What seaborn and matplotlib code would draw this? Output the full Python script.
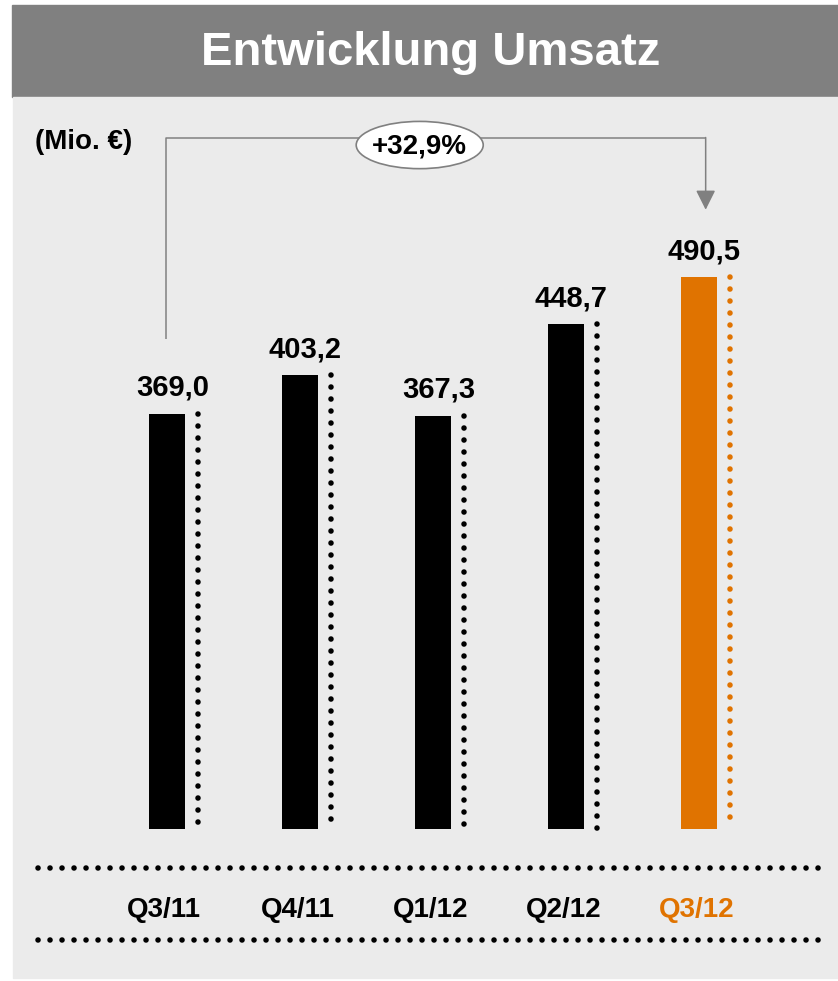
import numpy as np
import matplotlib
matplotlib.use("Agg")
import matplotlib.pyplot as plt
from matplotlib.patches import Rectangle, Ellipse
import seaborn as sns

# data
quarters = ["Q3/11", "Q4/11", "Q1/12", "Q2/12", "Q3/12"]
umsatz = [369.0, 403.2, 367.3, 448.7, 490.5]
bar_colors = ["#000000", "#000000", "#000000", "#000000", "#E07300"]
label_colors = ["#000000", "#000000", "#000000", "#000000", "#E07300"]
title = "Entwicklung Umsatz"
unit_label = "(Mio. €)"

growth = (umsatz[-1] / umsatz[0] - 1) * 100
growth_label = "+" + f"{growth:.1f}".replace(".", ",") + "%"

sns.set_style("white")
plt.rcParams["font.family"] = ["Liberation Sans", "DejaVu Sans"]
plt.rcParams["font.weight"] = "bold"
plt.rcParams["text.color"] = "black"

W, H = 838, 981
fig = plt.figure(figsize=(W / 100, H / 100), dpi=100, facecolor="white")

# title bar and panel (behind the axes)
fig.patches.append(Rectangle((12 / W, 1 - 97 / H), 1 - 12 / W, 92 / H,
                             transform=fig.transFigure, color="#808080", zorder=-10))
fig.patches.append(Rectangle((13 / W, 1 - 978 / H), 1 - 13 / W, (978 - 97) / H,
                             transform=fig.transFigure, color="#EBEBEB", zorder=-10))
fig.text(431 / W, 1 - 53 / H, title, ha="center", va="center",
         color="white", fontsize=34, fontweight="bold")

ax = fig.add_axes([13 / W, 3 / H, 825 / W, (978 - 97) / H])
ax.patch.set_alpha(0)

sns.barplot(x=quarters, y=umsatz, hue=quarters, palette=bar_colors,
            legend=False, width=0.27, saturation=1, linewidth=0, ax=ax)

dot_style = dict(linestyle=(0, (0.01, 2.15)), linewidth=4.0, dash_capstyle="round")

for i, (v, c) in enumerate(zip(umsatz, bar_colors)):
    ax.plot([i + 0.233, i + 0.233], [v, 0], color=c, **dot_style)
    ax.text(i + 0.04, v + 16, f"{v:.1f}".replace(".", ","), ha="center",
            va="baseline", fontsize=21, fontweight="bold", color="black")
    ax.text(i - 0.02, -72, quarters[i], ha="center", va="center",
            fontsize=20, fontweight="bold", color=label_colors[i])

# dotted rules around the category labels
for y in (-34.7, -98.7):
    ax.plot([-0.97, 4.985], [y, y], color="black", **dot_style)

# growth bracket
top = 614.2
ax.plot([-0.01, -0.01, 4.05], [umsatz[0] + 67, top, top],
        color="#808080", lw=1.1, solid_capstyle="butt")
ax.annotate("", xy=(4.05, umsatz[-1] + 60), xytext=(4.05, top + 0.5),
            arrowprops=dict(arrowstyle="-|>,head_length=0.6,head_width=0.3",
                            color="#808080", lw=1.1, shrinkA=0, shrinkB=0,
                            mutation_scale=20))
ax.add_patch(Ellipse((1.9, 608), 0.955, 42, facecolor="white",
                     edgecolor="#808080", lw=1.2, zorder=5))
ax.text(1.9, 607, growth_label, ha="center", va="center", fontsize=20,
        fontweight="bold", color="black", zorder=6)

ax.text(-0.624, 611, unit_label, ha="center", va="center", fontsize=20,
        fontweight="bold", color="black")

ax.set_xlim(-1.158, 5.045)
ax.set_ylim(-132.4, 650.7)
ax.axis("off")

fig.savefig("out.png", dpi=100, facecolor="white")
